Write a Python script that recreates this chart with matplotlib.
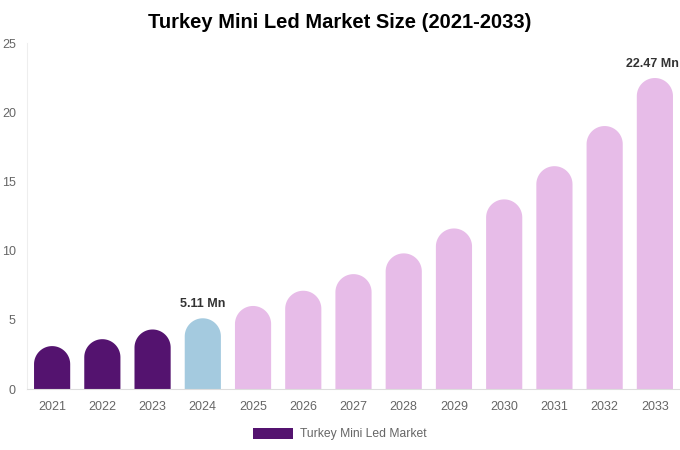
import numpy as np
import matplotlib.pyplot as plt
from matplotlib.patches import Polygon, Patch

plt.rcParams['font.family'] = ['Liberation Sans', 'DejaVu Sans']

years = ['2021', '2022', '2023', '2024', '2025', '2026', '2027',
         '2028', '2029', '2030', '2031', '2032', '2033']
values = [3.1, 3.6, 4.3, 5.11, 6.0, 7.1, 8.3, 9.8, 11.6, 13.7, 16.1, 19.0, 22.47]
labels = {3: '5.11 Mn', 12: '22.47 Mn'}

dark = '#54136F'
blue = '#A4CADF'
pink = '#E7BCE8'
colors = [dark, dark, dark, blue] + [pink] * 9

W, H = 680, 450
fig = plt.figure(figsize=(W / 100, H / 100), dpi=100)
ax_l, ax_r, ax_b, ax_t = 27, 680, 389, 43
ax = fig.add_axes([ax_l / W, (H - ax_b) / H, (ax_r - ax_l) / W, (ax_b - ax_t) / H])

n = len(years)
ax.set_xlim(-0.5, n - 0.5)
ax.set_ylim(0, 25)

bw = 0.72
# radius of the rounded cap in y-units so it looks circular on screen
px_x = (ax_r - ax_l) / n
px_y = (ax_b - ax_t) / 25
ry = (bw / 2) * px_x / px_y

theta = np.linspace(np.pi, 0, 40)
for i, c in enumerate(colors):
    val = values[i]
    x0, x1 = i - bw / 2, i + bw / 2
    yc = val - ry
    arc = np.column_stack([i + (bw / 2) * np.cos(theta), yc + ry * np.sin(theta)])
    pts = np.vstack([[x0, 0], [x0, yc], arc, [x1, yc], [x1, 0]])
    ax.add_patch(Polygon(pts, closed=True, facecolor=c, edgecolor='none'))
    if i in labels:
        ax.text(i - 0.05 if i == n - 1 else i, val + 0.6, labels[i], ha='center', va='bottom',
                fontsize=9, fontweight='bold', color='#333333')

ax.set_xticks(range(n))
ax.set_xticklabels(years)
ax.set_yticks([0, 5, 10, 15, 20, 25])
ax.tick_params(axis='both', length=0, colors='#666666', labelsize=9)
ax.tick_params(axis='x', pad=9)
ax.tick_params(axis='y', pad=8)

for s in ['top', 'right']:
    ax.spines[s].set_visible(False)
ax.spines['bottom'].set_color('#dddddd')
ax.spines['left'].set_color('#eeeeee')
ax.spines['left'].set_linewidth(0.8)

fig.text(0.5, 1 - 22 / H, 'Turkey Mini Led Market Size (2021-2033)', ha='center', va='center',
         fontsize=14.5, fontweight='bold', color='#000000')

fig.legend(handles=[Patch(facecolor=dark, label='Turkey Mini Led Market')],
           loc='center', bbox_to_anchor=(0.5, 1 - 434 / H), frameon=False,
           fontsize=8.7, labelcolor='#666666', handlelength=3.3, handleheight=1.0,
           handletextpad=0.6)

fig.savefig('out.png', dpi=100)
